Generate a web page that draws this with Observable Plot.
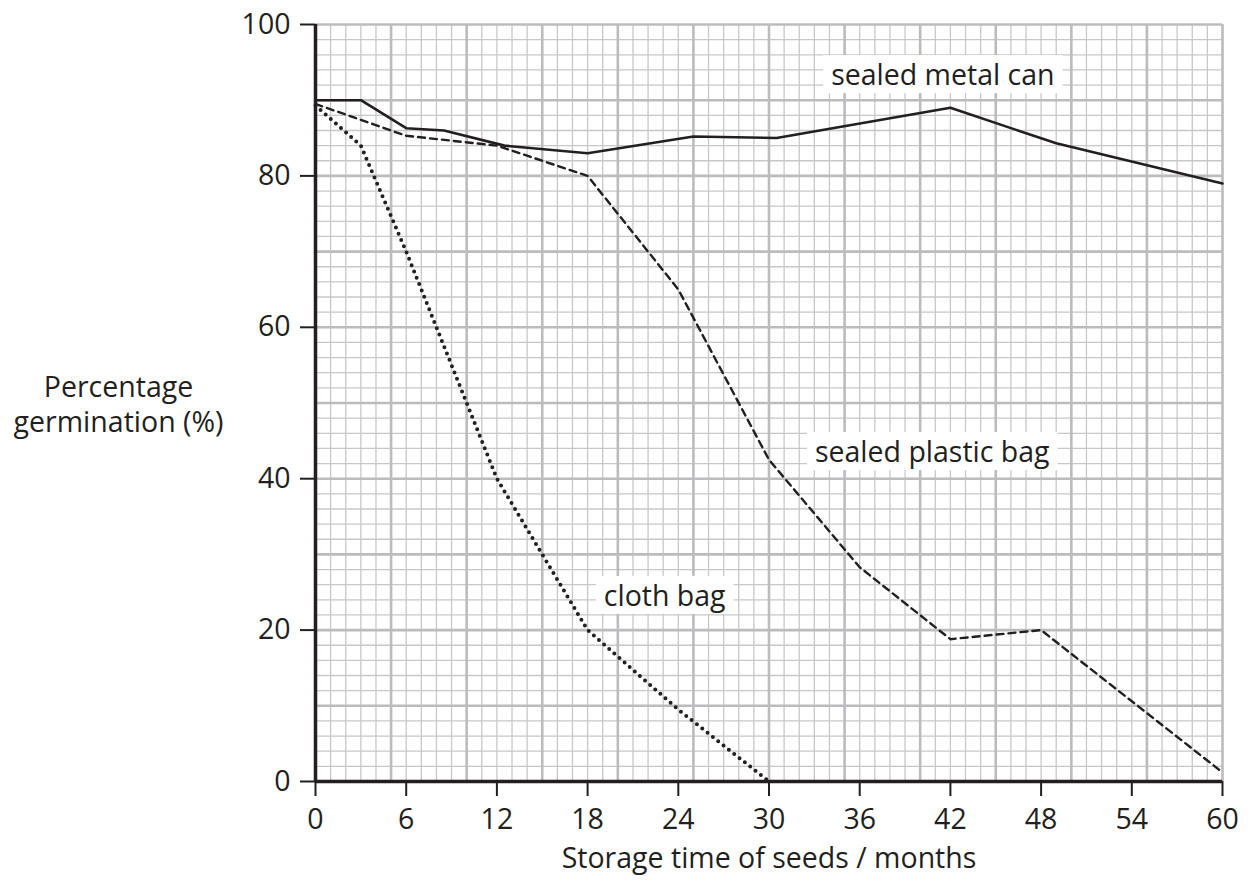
<!DOCTYPE html>
<html>
<head>
<meta charset="utf-8">
<script src="https://cdn.jsdelivr.net/npm/d3@7"></script>
<script src="https://cdn.jsdelivr.net/npm/@observablehq/plot@0.6"></script>
<style>
  html, body { margin: 0; padding: 0; background: #fff; }
  #chart { width: 1251px; height: 883px; }
</style>
</head>
<body>
<div id="chart"></div>
<script>
// ---- data ----
const metalMonths   = [0, 3, 6, 8.5, 12.5, 18, 25, 30.5, 42, 49, 60];
const metalValues   = [90, 90, 86.3, 86, 84, 83, 85.2, 85, 89, 84.3, 79];

const plasticMonths = [0, 6, 12, 18, 24, 30, 36, 42, 48, 60];
const plasticValues = [89.5, 85.3, 84, 80, 65, 42.5, 28.3, 18.8, 20, 1.2];

const clothMonths   = [0, 3, 6, 12, 18, 24, 30];
const clothValues   = [89.3, 84, 70, 40, 20, 9.5, 0];

const xTicks = [0, 6, 12, 18, 24, 30, 36, 42, 48, 54, 60];
const yTicks = [0, 20, 40, 60, 80, 100];

const labelNames  = ["sealed metal can", "sealed plastic bag", "cloth bag"];
const labelMonths = [41.5, 40.8, 23.1];
const labelValues = [93.2, 43.4, 24.4];

const xLabel = "Storage time of seeds / months";
const yLabel = "Percentage\ngermination (%)";

// ---- derived tables ----
const toPts = (xs, ys) => xs.map((x, i) => ({x, y: ys[i]}));
const metal = toPts(metalMonths, metalValues);
const plastic = toPts(plasticMonths, plasticValues);
const cloth = toPts(clothMonths, clothValues);
const labels = labelNames.map((t, i) => ({t, x: labelMonths[i], y: labelValues[i]}));

const xMinor = d3.range(0, 61, 1).filter(d => d % 5 !== 0);
const xMajor = d3.range(0, 61, 5);
const yMinor = d3.range(0, 101, 2).filter(d => d % 10 !== 0);
const yMajor = d3.range(0, 101, 10);

const ink = "#231f20";

const chart = Plot.plot({
  width: 1251,
  height: 883,
  marginLeft: 315,
  marginRight: 29,
  marginTop: 24,
  marginBottom: 102,
  style: {fontFamily: "'Open Sans', sans-serif", fontSize: "28.5px", color: ink, background: "#fff"},
  x: {domain: [0, 60]},
  y: {domain: [0, 100]},
  marks: [
    Plot.ruleX(xMinor, {stroke: "#c8c8cb", strokeWidth: 1.3}),
    Plot.ruleY(yMinor, {stroke: "#c8c8cb", strokeWidth: 1.3}),
    Plot.ruleX(xMajor, {stroke: "#bcbcbf", strokeWidth: 2.6}),
    Plot.ruleY(yMajor, {stroke: "#bcbcbf", strokeWidth: 2.6}),
    Plot.axisX({ticks: xTicks, tickSize: 15, tickPadding: 12, strokeWidth: 2, stroke: ink, fill: ink, label: null}),
    Plot.axisY({ticks: yTicks, tickSize: 15, tickPadding: 10, strokeWidth: 2, stroke: ink, fill: ink, label: null}),
    Plot.ruleX([0], {stroke: ink, strokeWidth: 3.5}),
    Plot.ruleY([0], {stroke: ink, strokeWidth: 3.5}),
    Plot.line(metal, {x: "x", y: "y", stroke: ink, strokeWidth: 2.6}),
    Plot.line(plastic, {x: "x", y: "y", stroke: ink, strokeWidth: 2.4, strokeDasharray: "7,5"}),
    Plot.line(cloth, {x: "x", y: "y", stroke: ink, strokeWidth: 4, strokeDasharray: "0,6.8", strokeLinecap: "round"}),
    Plot.text(labels, {x: "x", y: "y", text: "t", fill: ink}),
    Plot.text([xLabel], {frameAnchor: "bottom", dy: 86, fill: ink}),
    Plot.text([yLabel], {frameAnchor: "left", dx: -197, textAnchor: "middle", fill: ink, lineHeight: 1.25})
  ]
});
document.getElementById("chart").appendChild(chart);

// white boxes behind the series labels
chart.querySelectorAll("text").forEach(t => {
  if (!labelNames.includes(t.textContent)) return;
  const b = t.getBBox();
  const r = document.createElementNS("http://www.w3.org/2000/svg", "rect");
  r.setAttribute("x", b.x - 8);
  r.setAttribute("y", b.y);
  r.setAttribute("width", b.width + 16);
  r.setAttribute("height", b.height);
  r.setAttribute("fill", "#fff");
  const tr = t.getAttribute("transform");
  if (tr) r.setAttribute("transform", tr);
  t.parentNode.insertBefore(r, t);
});
</script>
</body>
</html>
